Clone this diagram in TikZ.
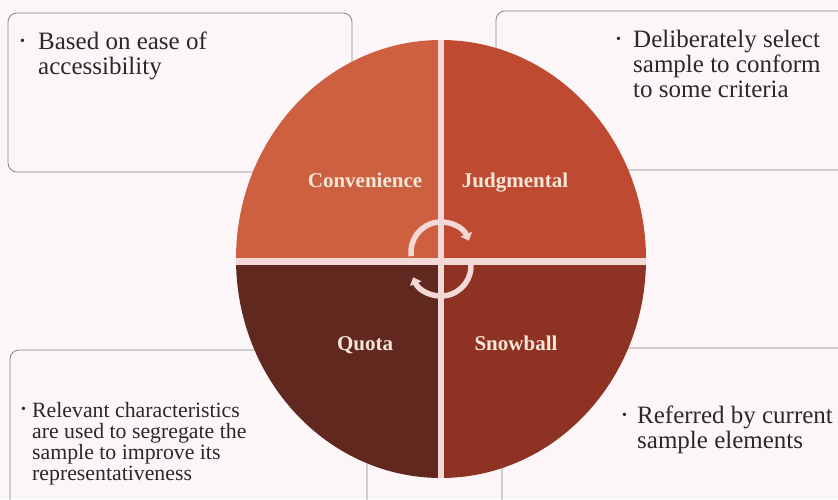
\documentclass[tikz,border=0pt]{standalone}
\usepackage{fontspec}
\setmainfont{Liberation Serif}
\usetikzlibrary{arrows.meta}
\definecolor{pagebg}{RGB}{252,246,248}
\definecolor{boxline}{RGB}{140,132,132}
\definecolor{convcolor}{RGB}{206,96,66}
\definecolor{judgcolor}{RGB}{190,74,50}
\definecolor{quotacolor}{RGB}{96,40,30}
\definecolor{snowcolor}{RGB}{142,50,35}
\definecolor{splitcolor}{RGB}{242,216,214}
\definecolor{labelcolor}{RGB}{245,230,214}
\definecolor{textcolor}{RGB}{45,40,40}

\newcommand{\bul}[1]{\makebox[#1][l]{\raisebox{4pt}{\fontsize{14}{14}\selectfont\textbullet}}}

\begin{document}
\begin{tikzpicture}[x=1pt, y=1pt,
    infobox/.style={draw=boxline, line width=0.8pt, rounded corners=9pt},
    quadlabel/.style={font=\fontsize{21}{21}\selectfont\bfseries, text=labelcolor, inner sep=0pt, anchor=base},
    bigtext/.style={font=\fontsize{25}{25}\selectfont, text=textcolor, align=left, anchor=base west, inner sep=0pt},
    smalltext/.style={bigtext, font=\fontsize{21.8}{21}\selectfont},
    cyclearc/.style={splitcolor, line width=5.5pt}]
  \useasboundingbox (0,0) rectangle (838,499);
  \clip (0,0) rectangle (838,499);
  % Background
  \fill[pagebg] (0,0) rectangle (838,499);
  % Description boxes
  \draw[infobox] (8,327) rectangle (352,486);
  \draw[infobox] (496,329) rectangle (850,488);
  \draw[infobox] (10,-12) rectangle (367,149);
  \draw[infobox] (502,-12) rectangle (850,151);
  % Quadrants of the disc
  \begin{scope}
    \clip (441,240) ellipse [x radius=205, y radius=219];
    \fill[convcolor] (230,238) rectangle (441,465);
    \fill[judgcolor] (441,238) rectangle (650,465);
    \fill[quotacolor] (230,15) rectangle (441,238);
    \fill[snowcolor] (441,15) rectangle (650,238);
    % Dividers
    \draw[splitcolor, line width=6pt] (441,15) -- (441,465);
    \draw[splitcolor, line width=7pt] (230,238) -- (650,238);
  \end{scope}
  % Cycle arrows
  \draw[cyclearc, -{Triangle[length=7pt, width=12pt]}] ([shift={(188:30)}]441,247)
    arc [start angle=188, end angle=22, radius=30];
  \draw[cyclearc, -{Triangle[length=7pt, width=12pt]}] ([shift={(8:30)}]441,233)
    arc [start angle=8, end angle=-158, radius=30];
  % Quadrant labels
  \node[quadlabel] (conv) at (365,312) {Convenience};
  \node[quadlabel] (judg) at (515,312) {Judgmental};
  \node[quadlabel] (quota) at (365,149) {Quota};
  \node[quadlabel] (snow) at (516,149) {Snowball};
  % Descriptions (anchored at the last line)
  \node[bigtext] (convtext) at (20,424)
    {\bul{18pt}Based on ease of\\\hspace*{18pt}accessibility};
  \node[bigtext] (judgtext) at (616,401)
    {\bul{17pt}Deliberately select\\\hspace*{17pt}sample to conform\\\hspace*{17pt}to some criteria};
  \node[smalltext] (quotatext) at (21,19)
    {\bul{11pt}Relevant characteristics\\\hspace*{11pt}are used to segregate the\\\hspace*{11pt}sample to improve its\\\hspace*{11pt}representativeness};
  \node[bigtext] (snowtext) at (622,51)
    {\bul{15pt}Referred by current\\\hspace*{15pt}sample elements};
\end{tikzpicture}
\end{document}
